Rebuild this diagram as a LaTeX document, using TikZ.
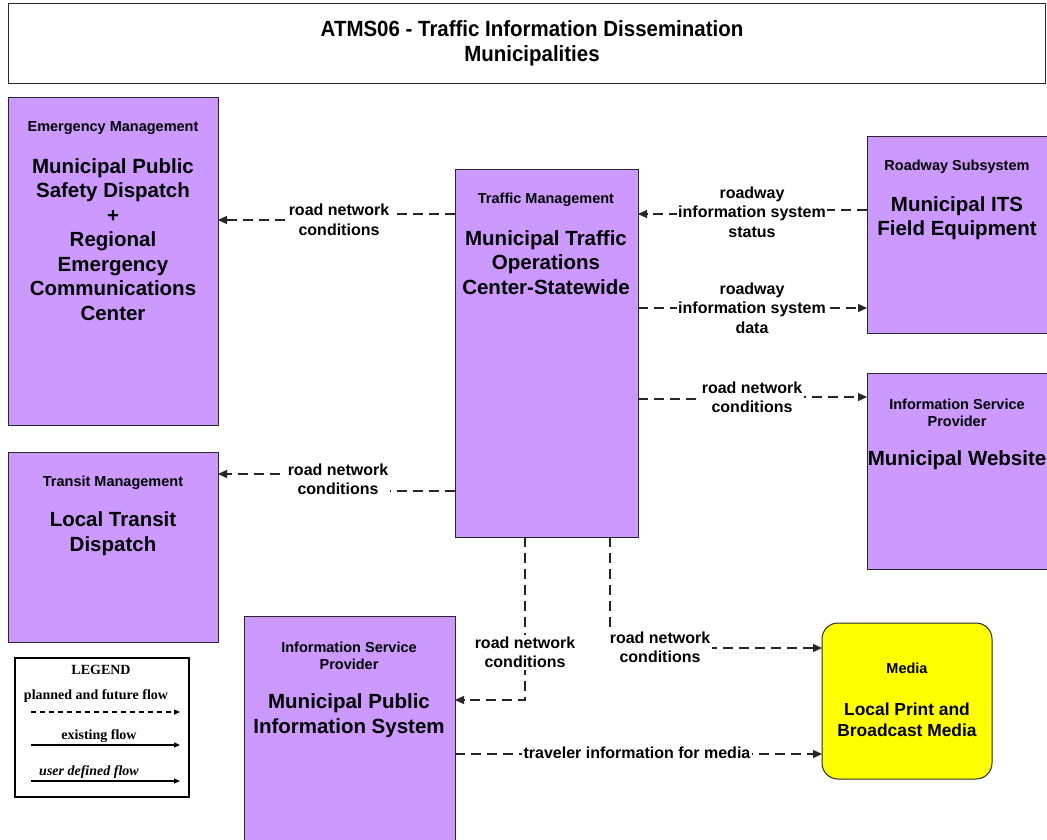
\documentclass[tikz,border=0pt]{standalone}
\usepackage{fontspec}
\setmainfont{Liberation Sans}
\newfontfamily\titlefont[FakeStretch=0.93]{Liberation Sans}
\newfontfamily\legfont{Liberation Serif}
\usetikzlibrary{arrows.meta,calc}
\definecolor{lav}{RGB}{204,153,255}
\definecolor{edgec}{RGB}{40,40,40}
\definecolor{medyel}{RGB}{255,255,0}
\tikzset{
 box/.style={draw=edgec, fill=lav, line width=1pt, inner sep=0pt, outer sep=0pt, anchor=north west},
 hdr/.style={font=\fontsize{14.5}{17}\selectfont\bfseries, align=center, inner sep=0pt},
 big/.style={font=\fontsize{20.5}{24.5}\selectfont\bfseries, align=center, inner sep=0pt},
 flow/.style={draw=black!85, line width=1.3pt, dash pattern=on 10pt off 6pt, -{Triangle[length=9pt,width=8pt]}},
 lbl/.style={font=\fontsize{16}{19.5}\selectfont\bfseries, align=center, fill=white, inner sep=1.5pt},
 legtxt/.style={font=\legfont\fontsize{14}{16}\selectfont\bfseries, inner sep=0pt},
 legarrow/.style={draw=black, line width=1.2pt, -{Triangle[length=6pt,width=5pt]}},
}
\begin{document}
\begin{tikzpicture}[x=1pt,y=-1pt]
\useasboundingbox (0,0) rectangle (1047,839);
\fill[white] (0,0) rectangle (1047,839);
\clip (0,0) rectangle (1047,839);

% title
\node[draw=edgec, line width=1pt, fill=white, anchor=north west, minimum width=1037pt, minimum height=80pt, inner sep=0pt] (titlebox) at (8,3) {};
\node[font=\titlefont\fontsize{22}{25}\selectfont\bfseries, align=center, inner sep=0pt] (title) at (532,43) {ATMS06 - Traffic Information Dissemination\\Municipalities};

% boxes
\node[box, minimum width=210pt, minimum height=328pt] (em) at (8,97) {};
\node[box, minimum width=210pt, minimum height=190pt] (tm) at (8,452) {};
\node[box, minimum width=183pt, minimum height=368pt] (tmc) at (455,169) {};
\node[box, minimum width=190pt, minimum height=197pt] (rs) at (867,136) {};
\node[box, minimum width=190pt, minimum height=196pt] (web) at (867,373) {};
\node[box, minimum width=211pt, minimum height=240pt] (mpis) at (244,616) {};
\node[box, fill=medyel, rounded corners=16pt, minimum width=170pt, minimum height=156pt] (media) at (822,623) {};

% box texts
\node[hdr] (emh) at (113,128) {Emergency Management};
\node[big] (emt) at (113,239.5) {Municipal Public\\Safety Dispatch\\+\\Regional\\Emergency\\Communications\\Center};
\node[hdr] (tmh) at (113,483) {Transit Management};
\node[big] (tmt) at (113,533.5) {Local Transit\\Dispatch};
\node[hdr] (tmch) at (546,200) {Traffic Management};
\node[big] (tmct) at (546,262.5) {Municipal Traffic\\Operations\\Center-Statewide};
\node[hdr] (rsh) at (957,167) {Roadway Subsystem};
\node[big] (rst) at (957,218) {Municipal ITS\\Field Equipment};
\node[hdr] (webh) at (957,412.5) {Information Service\\Provider};
\node[big] (webt) at (957,460) {Municipal Website};
\node[hdr] (mpish) at (349,655.5) {Information Service\\Provider};
\node[big] (mpist) at (349,715.5) {Municipal Public\\Information System};
\node[hdr] (mediah) at (907,668) {Media};
\node[font=\fontsize{17.4}{21}\selectfont\bfseries, align=center, inner sep=0pt] (mediat) at (907,719.5) {Local Print and\\Broadcast Media};

% connectors
\draw[flow] ($(tmc.north west)+(0,45)$) -- (339,214) -- (339,220) -- ($(em.north east)+(0,123)$);
\draw[flow] ($(rs.north west)+(0,74)$) -- (752,210) -- (752,214) -- ($(tmc.north east)+(0,45)$);
\draw[flow] ($(tmc.north east)+(0,139)$) -- ($(rs.north west)+(0,172)$);
\draw[flow] ($(tmc.north east)+(0,230)$) -- (752,399) -- (752,397) -- ($(web.north west)+(0,24)$);
\draw[flow] ($(tmc.north west)+(0,322)$) -- (338,491) -- (338,474) -- ($(tm.north east)+(0,22)$);
\draw[flow] ($(tmc.south west)+(70,0)$) |- ($(mpis.north east)+(0,84)$);
\draw[flow] ($(tmc.south west)+(155,0)$) |- ($(media.north west)+(0,25)$);
\draw[flow] ($(mpis.north east)+(0,138)$) -- ($(media.north west)+(0,131)$);

% labels
\node[lbl] (l1) at (339,220) {road network\\conditions};
\node[lbl] (l2) at (752,212) {roadway\\information system\\status};
\node[lbl] (l3) at (752,308) {roadway\\information system\\data};
\node[lbl] (l4) at (752,397.5) {road network\\conditions};
\node[lbl] (l5) at (338,479.5) {road network\\conditions};
\node[lbl] (l6) at (525,652.5) {road network\\conditions};
\node[lbl] (l7) at (660,647.5) {road network\\conditions};
\node[lbl] (l8) at (637,753) {traveler information for media};

% legend
\node[draw=black, line width=1.5pt, fill=white, anchor=north west, minimum width=174pt, minimum height=139pt, inner sep=0pt] (leg) at (14,657) {};
\node[legtxt] (legt) at (101,670) {LEGEND};
\node[legtxt] (leg1) at (96,696) {planned and future flow};
\node[legtxt] (leg2) at (99,736) {existing flow};
\node[legtxt, font=\legfont\fontsize{14}{16}\selectfont\bfseries\itshape] (leg3) at (89,772) {user defined flow};
\coordinate (la1) at (31,712); \coordinate (lb1) at (180,712);
\coordinate (la2) at (31,745); \coordinate (lb2) at (180,745);
\coordinate (la3) at (31,781); \coordinate (lb3) at (180,781);
\draw[legarrow, dash pattern=on 5pt off 4pt] (la1) -- (lb1);
\draw[legarrow] (la2) -- (lb2);
\draw[legarrow] (la3) -- (lb3);
\end{tikzpicture}
\end{document}
